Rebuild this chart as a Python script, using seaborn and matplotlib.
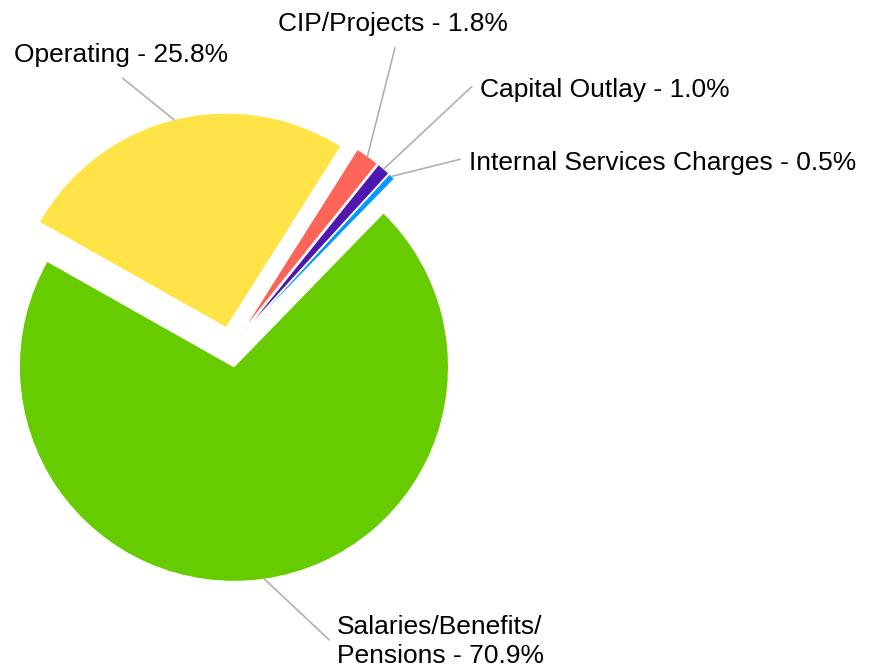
import matplotlib
matplotlib.use("Agg")
import numpy as np
import matplotlib.pyplot as plt
import seaborn as sns

# data
categories = ["Salaries/Benefits/\nPensions", "Operating", "CIP/Projects",
              "Capital Outlay", "Internal Services Charges"]
shares = [70.9, 25.8, 1.8, 1.0, 0.5]
colors = ["#66cc00", "#ffe347", "#ff6458", "#4e17af", "#0099ff"]

sns.set_theme(style="white")
plt.rcParams["font.family"] = ["Liberation Sans", "DejaVu Sans"]

W, H = 870, 669
R_PX = 214.5                 # pie radius in pixels
CX, CY = 231.1, 347.0        # pie centre in pixels


def px(x, y):
    # pixel position -> data coords (pie radius = 1)
    return (x - CX) / R_PX, (CY - y) / R_PX


# label layout in pixels: (ha, text x, baseline y of last line, connector end)
label_layout = [
    ("left", 337, 663, (329.3, 640)),
    ("right", 228, 62, (122.7, 78.3)),
    ("left", 278, 31, (395, 47.7)),
    ("left", 480, 96.7, (471.7, 86.7)),
    ("left", 469, 170, (460, 159.3)),
]

fig = plt.figure(figsize=(W / 100, H / 100), dpi=100)
ax = fig.add_axes([0, 0, 1, 1])

wedges, _ = ax.pie(shares, colors=colors, startangle=45.8, counterclock=False,
                   explode=[20 / R_PX] * len(shares), radius=1,
                   wedgeprops=dict(linewidth=0.7, edgecolor="white",
                                   joinstyle="round"))

for w, name, val, (ha, tx, ty, end) in zip(wedges, categories, shares, label_layout):
    mid = np.deg2rad((w.theta1 + w.theta2) / 2)
    cx, cy = w.center
    arc = (cx + w.r * np.cos(mid), cy + w.r * np.sin(mid))
    ex, ey = px(*end)
    ax.plot([arc[0], ex], [arc[1], ey], color="#b0b0b0", lw=1.2, zorder=1)
    x, y = px(tx, ty)
    ax.text(x, y, f"{name} - {val:.1f}%", ha=ha, va="baseline",
            fontsize=19, color="black", linespacing=1.27)

ax.set_xlim(-CX / R_PX, (W - CX) / R_PX)
ax.set_ylim((CY - H) / R_PX, CY / R_PX)
ax.set_aspect("equal")
ax.set_axis_off()

fig.savefig("out.png", dpi=100, facecolor="white")
